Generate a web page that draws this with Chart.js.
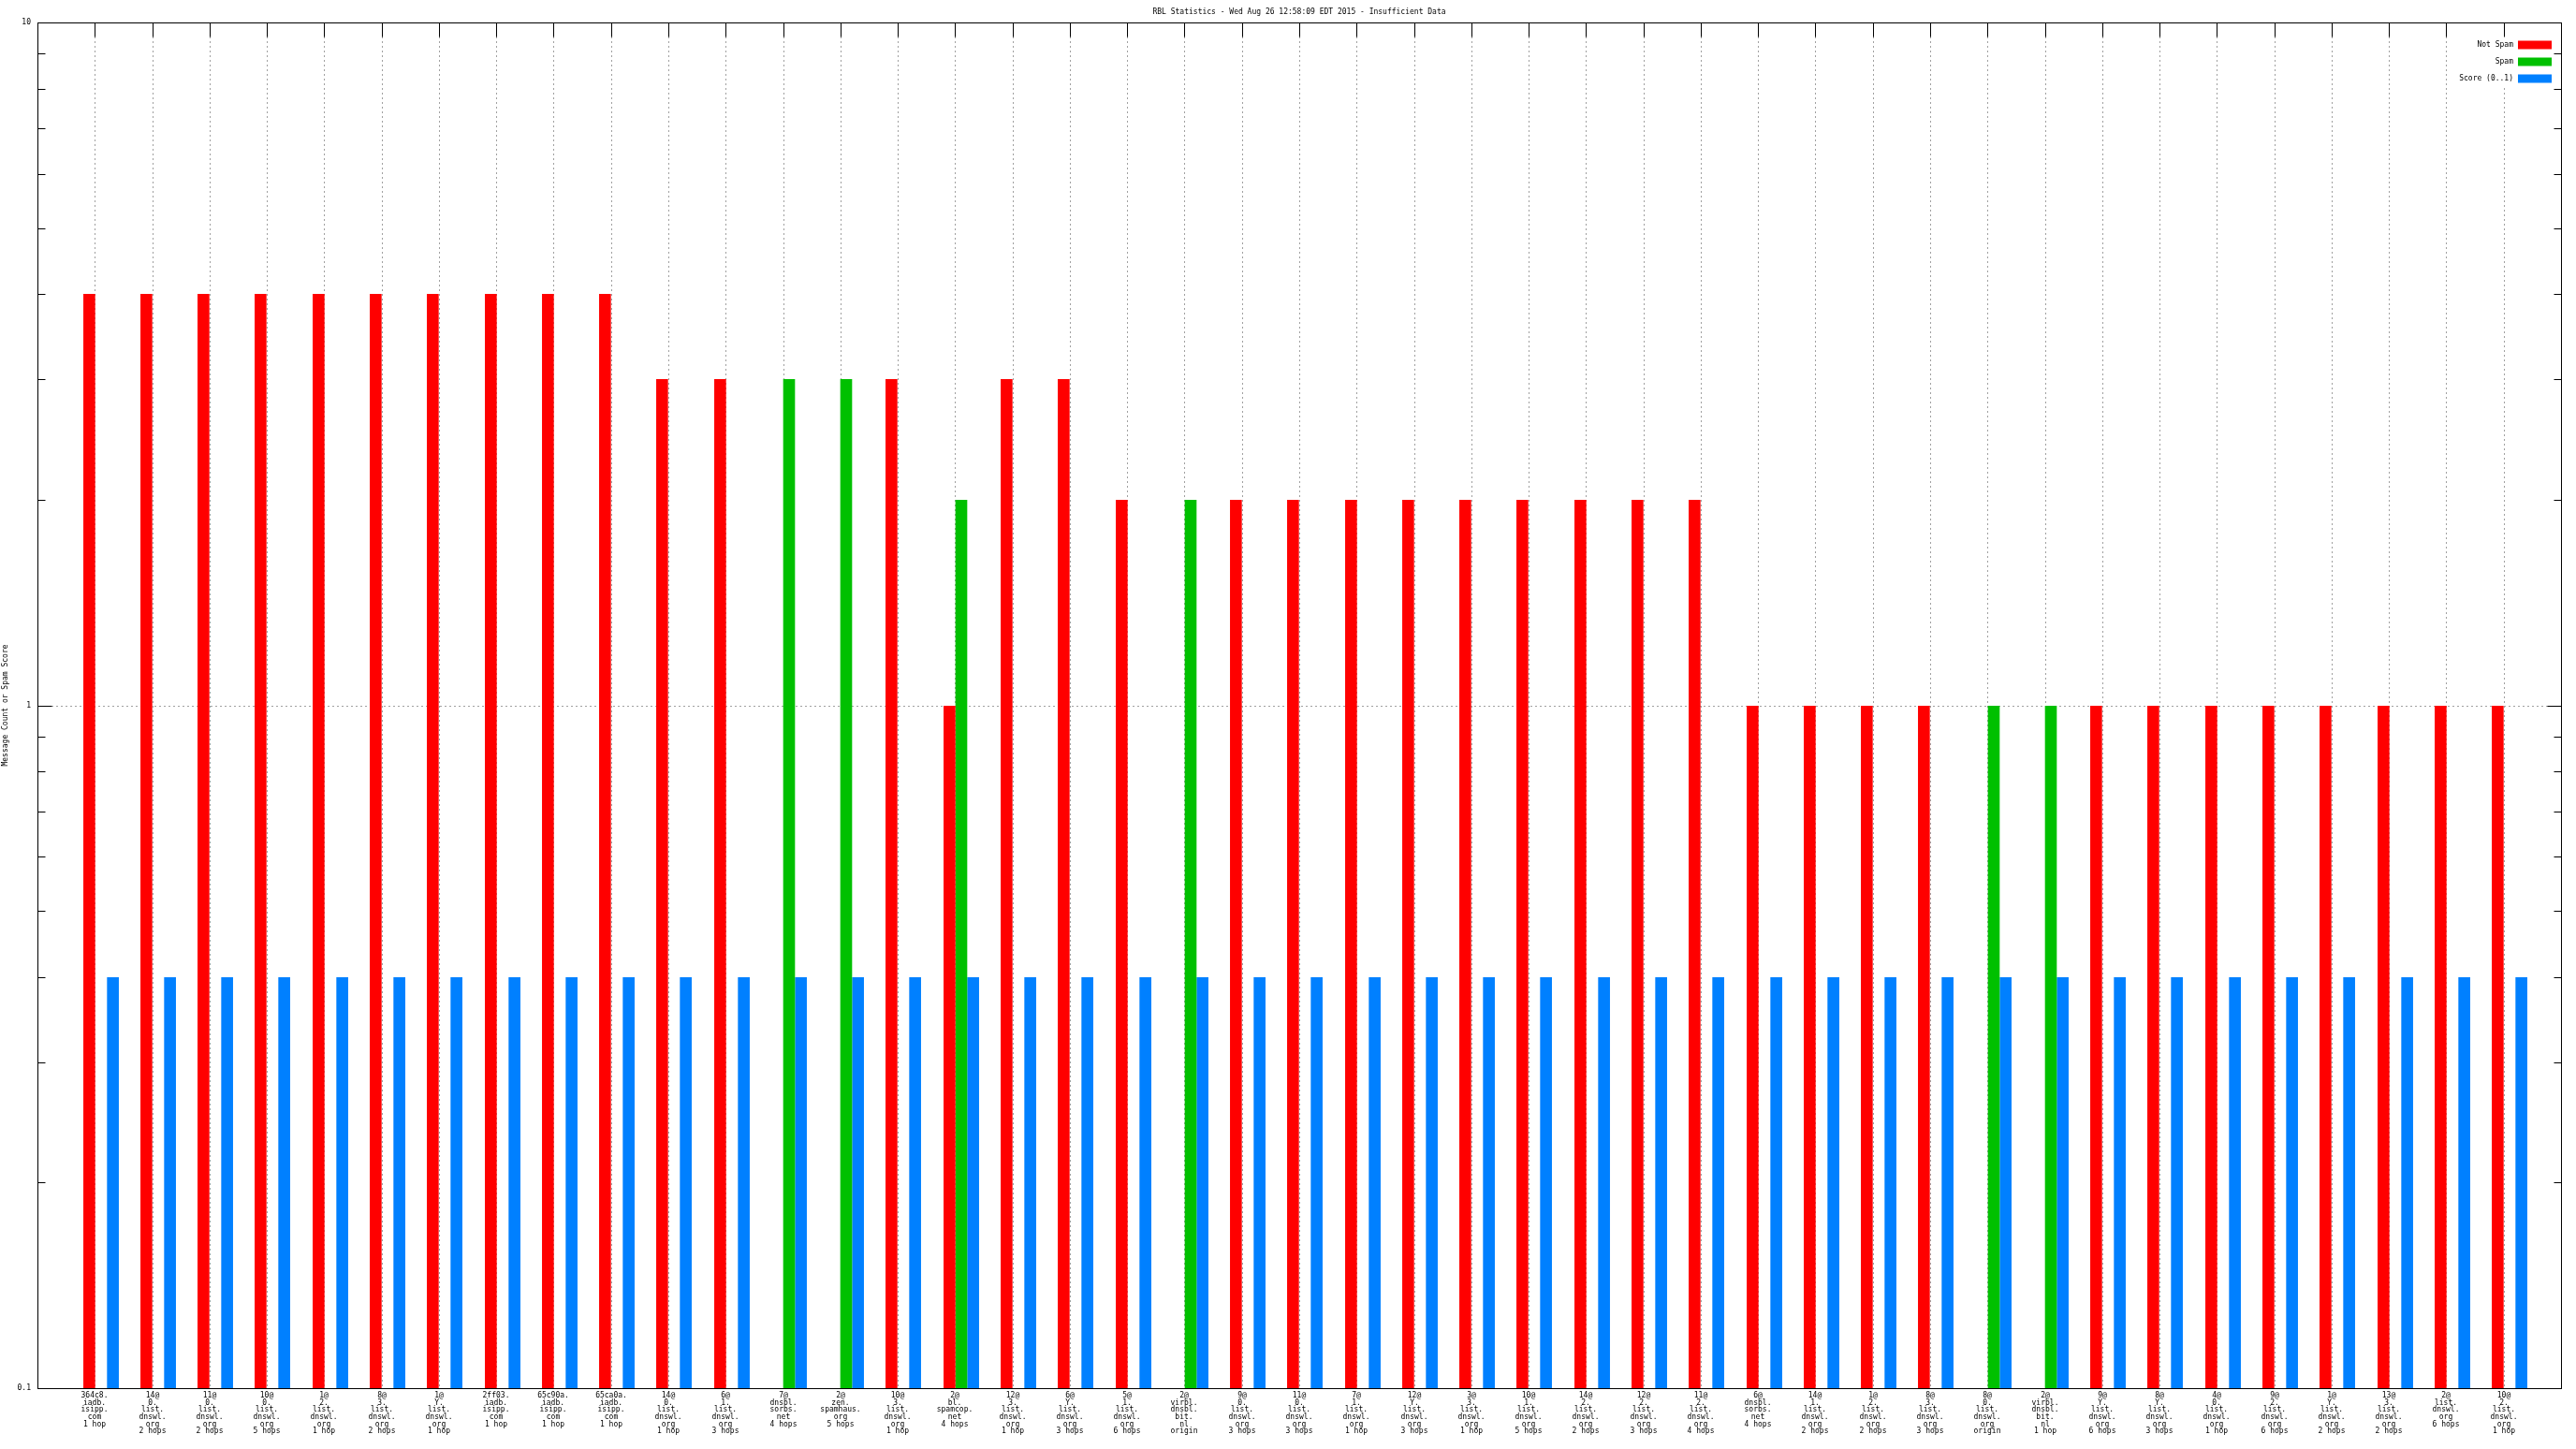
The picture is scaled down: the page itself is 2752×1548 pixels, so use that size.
<!DOCTYPE html>
<html>
<head>
<meta charset="utf-8">
<title>RBL Statistics</title>
<script src="https://cdn.jsdelivr.net/npm/chart.js@4.4.1/dist/chart.umd.min.js"></script>
<style>
    html, body { margin: 0; padding: 0; background: #fff; }
    #wrap { width: 2752px; height: 1548px; }
</style>
</head>
<body>
<div id="wrap"><canvas id="rbl" width="2752" height="1548"></canvas></div>
<script>
"use strict";

// one entry per lookup, split on the dots like the original plot
const categories = [
    ["364c8.", "iadb.", "isipp.", "com", "1 hop"],
    ["14@", "0.", "list.", "dnswl.", "org", "2 hops"],
    ["11@", "0.", "list.", "dnswl.", "org", "2 hops"],
    ["10@", "0.", "list.", "dnswl.", "org", "5 hops"],
    ["1@", "2.", "list.", "dnswl.", "org", "1 hop"],
    ["8@", "3.", "list.", "dnswl.", "org", "2 hops"],
    ["1@", "Y.", "list.", "dnswl.", "org", "1 hop"],
    ["2ff03.", "iadb.", "isipp.", "com", "1 hop"],
    ["65c90a.", "iadb.", "isipp.", "com", "1 hop"],
    ["65ca0a.", "iadb.", "isipp.", "com", "1 hop"],
    ["14@", "0.", "list.", "dnswl.", "org", "1 hop"],
    ["6@", "1.", "list.", "dnswl.", "org", "3 hops"],
    ["7@", "dnsbl.", "sorbs.", "net", "4 hops"],
    ["2@", "zen.", "spamhaus.", "org", "5 hops"],
    ["10@", "3.", "list.", "dnswl.", "org", "1 hop"],
    ["2@", "bl.", "spamcop.", "net", "4 hops"],
    ["12@", "3.", "list.", "dnswl.", "org", "1 hop"],
    ["6@", "Y.", "list.", "dnswl.", "org", "3 hops"],
    ["5@", "1.", "list.", "dnswl.", "org", "6 hops"],
    ["2@", "virbl.", "dnsbl.", "bit.", "nl", "origin"],
    ["9@", "0.", "list.", "dnswl.", "org", "3 hops"],
    ["11@", "0.", "list.", "dnswl.", "org", "3 hops"],
    ["7@", "1.", "list.", "dnswl.", "org", "1 hop"],
    ["12@", "Y.", "list.", "dnswl.", "org", "3 hops"],
    ["3@", "3.", "list.", "dnswl.", "org", "1 hop"],
    ["10@", "1.", "list.", "dnswl.", "org", "5 hops"],
    ["14@", "2.", "list.", "dnswl.", "org", "2 hops"],
    ["12@", "2.", "list.", "dnswl.", "org", "3 hops"],
    ["11@", "2.", "list.", "dnswl.", "org", "4 hops"],
    ["6@", "dnsbl.", "sorbs.", "net", "4 hops"],
    ["14@", "1.", "list.", "dnswl.", "org", "2 hops"],
    ["1@", "2.", "list.", "dnswl.", "org", "2 hops"],
    ["8@", "3.", "list.", "dnswl.", "org", "3 hops"],
    ["8@", "0.", "list.", "dnswl.", "org", "origin"],
    ["2@", "virbl.", "dnsbl.", "bit.", "nl", "1 hop"],
    ["9@", "Y.", "list.", "dnswl.", "org", "6 hops"],
    ["8@", "Y.", "list.", "dnswl.", "org", "3 hops"],
    ["4@", "0.", "list.", "dnswl.", "org", "1 hop"],
    ["9@", "2.", "list.", "dnswl.", "org", "6 hops"],
    ["1@", "Y.", "list.", "dnswl.", "org", "2 hops"],
    ["13@", "3.", "list.", "dnswl.", "org", "2 hops"],
    ["2@", "list.", "dnswl.", "org", "6 hops"],
    ["10@", "2.", "list.", "dnswl.", "org", "1 hop"]
];

const notSpam = [
    4, 4, 4, 4, 4, 4, 4, 4, 4, 4,
    3, 3, null, null, 3, 1, 3, 3, 2, null,
    2, 2, 2, 2, 2, 2, 2, 2, 2,
    1, 1, 1, 1, null, null,
    1, 1, 1, 1, 1, 1, 1, 1
];

const spam = [
    null, null, null, null, null, null, null, null, null, null,
    null, null, 3, 3, null, 2, null, null, null, 2,
    null, null, null, null, null, null, null, null, null,
    null, null, null, null, 1, 1,
    null, null, null, null, null, null, null, null
];

const score = [
    0.4, 0.4, 0.4, 0.4, 0.4, 0.4, 0.4, 0.4, 0.4, 0.4,
    0.4, 0.4, 0.4, 0.4, 0.4, 0.4, 0.4, 0.4, 0.4, 0.4,
    0.4, 0.4, 0.4, 0.4, 0.4, 0.4, 0.4, 0.4, 0.4,
    0.4, 0.4, 0.4, 0.4, 0.4, 0.4,
    0.4, 0.4, 0.4, 0.4, 0.4, 0.4, 0.4, 0.4
];

const yTickLabels = [0.1, 1, 10];

const FONT = "DejaVu Sans Mono";
const GRID = "#a0a0a0";
const catPct = 0.622;
// gnuplot puts the cluster just right of the tic, the first box ending on it
const shift = catPct / 6;

// minor log tics between the labelled decades
const yTicks = [];
for (let d = 0; d < yTickLabels.length - 1; d++) {
    for (let m = 1; m < 10; m++) yTicks.push(yTickLabels[d] * m);
}
yTicks.push(yTickLabels[yTickLabels.length - 1]);

function series(values) {
    return values.map(function (v, i) { return { x: i + shift, y: v }; });
}

function isMajor(v) {
    return yTickLabels.some(function (t) { return Math.abs(t - v) < 1e-9; });
}

// gnuplot style frame: border, inward tics, key inside top right
const framePlugin = {
    id: "frame",
    afterLayout(chart) {
        const t = chart.titleBlock;
        const a = chart.chartArea;
        if (t) {
            t.left = a.left;
            t.right = a.right;
            t.width = a.right - a.left;
        }
    },
    afterDraw(chart) {
        const ctx = chart.ctx;
        const a = chart.chartArea;
        const x = chart.scales.x;
        const y = chart.scales.y;
        const sets = chart.data.datasets;
        const L = Math.floor(a.left) + 0.5;
        const R = Math.floor(a.right) + 0.5;
        const T = Math.floor(a.top) + 0.5;
        const B = Math.floor(a.bottom) + 0.5;

        ctx.save();
        ctx.font = "8px \"" + FONT + "\"";
        const textRight = a.right - 51;
        let w = 0;
        sets.forEach(function (d) { w = Math.max(w, ctx.measureText(d.label).width); });
        ctx.fillStyle = "#fff";
        ctx.fillRect(textRight - w - 5, a.top + 14, a.right - (textRight - w - 5) - 3, 18 * sets.length + 2);

        ctx.strokeStyle = "#000";
        ctx.lineWidth = 1;
        ctx.beginPath();
        x.ticks.forEach(function (t) {
            const px = Math.round(x.getPixelForValue(t.value)) + 0.5;
            ctx.moveTo(px, T); ctx.lineTo(px, T + 15);
        });
        y.ticks.forEach(function (t) {
            const py = Math.round(y.getPixelForValue(t.value)) + 0.5;
            const len = isMajor(t.value) ? 15 : 8;
            ctx.moveTo(L, py); ctx.lineTo(L + len, py);
            ctx.moveTo(R, py); ctx.lineTo(R - len, py);
        });
        ctx.stroke();
        ctx.strokeRect(L, T, R - L, B - T);

        ctx.textAlign = "right";
        ctx.textBaseline = "middle";
        sets.forEach(function (d, k) {
            const ry = a.top + 24 + 18 * k;
            ctx.fillStyle = "#000";
            ctx.fillText(d.label, textRight, ry);
            ctx.fillStyle = d.backgroundColor;
            ctx.fillRect(a.right - 46, ry - 4.5, 36, 9);
        });
        ctx.restore();
    }
};

Chart.defaults.color = "#000";
Chart.defaults.font.family = FONT;
Chart.defaults.font.size = 8;

new Chart(document.getElementById("rbl"), {
    type: "bar",
    data: {
        datasets: [
            { label: "Not Spam", data: series(notSpam), backgroundColor: "#ff0000" },
            { label: "Spam", data: series(spam), backgroundColor: "#00c000" },
            { label: "Score (0..1)", data: series(score), backgroundColor: "#0080ff" }
        ]
    },
    options: {
        responsive: false,
        animation: false,
        devicePixelRatio: 1,
        layout: { padding: { left: 0, right: 16, top: 0, bottom: 0 } },
        datasets: {
            bar: {
                categoryPercentage: catPct,
                barPercentage: 1,
                borderWidth: 0
            }
        },
        scales: {
            x: {
                type: "linear",
                min: -1,
                max: 43,
                offset: false,
                alignToPixels: true,
                afterBuildTicks: function (s) {
                    s.ticks = categories.map(function (c, i) { return { value: i }; });
                },
                afterFit: function (s) { s.height = 65; },
                grid: { color: GRID, offset: false, drawTicks: false },
                border: { display: false, dash: [2, 3] },
                ticks: {
                    autoSkip: false,
                    maxRotation: 0,
                    minRotation: 0,
                    padding: 4,
                    font: { family: FONT, size: 8, lineHeight: "7.7px" },
                    callback: function (v) { return categories[Math.round(v)]; }
                }
            },
            y: {
                type: "logarithmic",
                min: 0.1,
                max: 10,
                alignToPixels: true,
                afterBuildTicks: function (s) {
                    s.ticks = yTicks.map(function (v) { return { value: v }; });
                },
                afterFit: function (s) { s.width = 40; },
                grid: {
                    drawTicks: false,
                    color: function (c) {
                        return c.tick && Math.abs(c.tick.value - 1) < 1e-9 ? GRID : "rgba(0,0,0,0)";
                    }
                },
                border: { display: false, dash: [2, 3] },
                title: {
                    display: true,
                    text: "Message Count or Spam Score",
                    padding: { top: 1, bottom: 0 },
                    font: { family: FONT, size: 8, lineHeight: "10px" }
                },
                ticks: {
                    autoSkip: false,
                    padding: 7,
                    font: { family: FONT, size: 8 },
                    callback: function (v) { return isMajor(v) ? String(v) : ""; }
                }
            }
        },
        plugins: {
            legend: { display: false },
            tooltip: { enabled: false },
            title: {
                display: true,
                text: "RBL Statistics - Wed Aug 26 12:58:09 EDT 2015 - Insufficient Data",
                color: "#000",
                padding: { top: 8, bottom: 6 },
                font: { family: FONT, size: 8, weight: "normal", lineHeight: "10px" }
            }
        }
    },
    plugins: [framePlugin]
});
</script>
</body>
</html>
